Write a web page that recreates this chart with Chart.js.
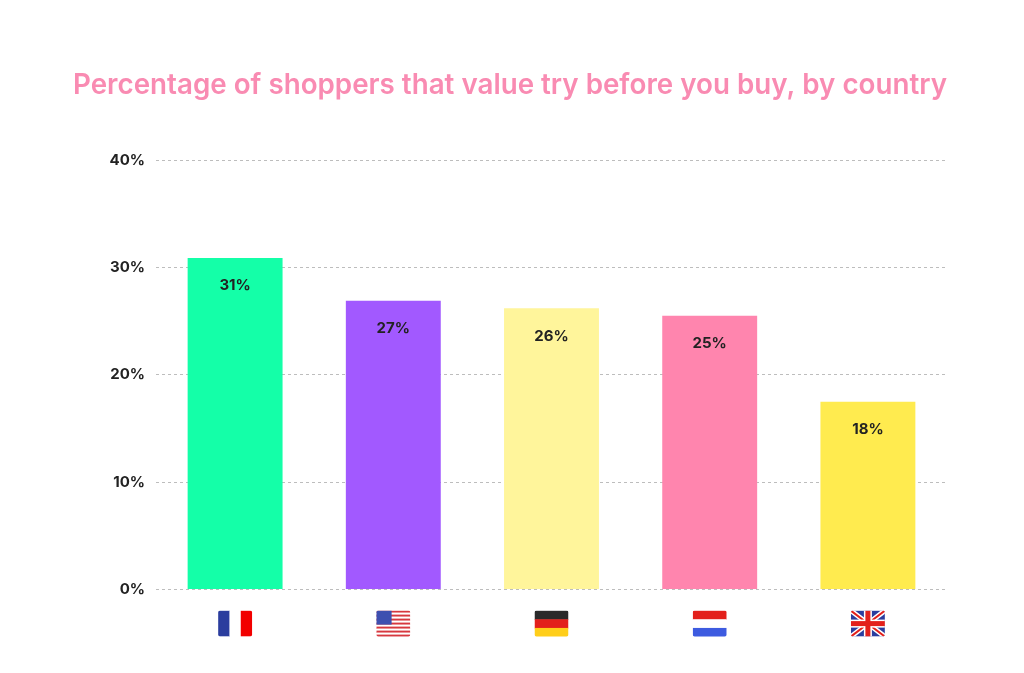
<!DOCTYPE html>
<html>
<head>
<meta charset="utf-8">
<script src="https://cdn.jsdelivr.net/npm/chart.js@4"></script>
<style>
  html, body { margin: 0; background: #fff; }
  #wrap { width: 1024px; height: 673px; }
</style>
</head>
<body>
<div id="wrap"><canvas id="chart"></canvas></div>
<script>
// country flags stand in for category labels
const countries = ['France', 'United States', 'Germany', 'Netherlands', 'United Kingdom'];
const shares = [30.9, 26.9, 26.2, 25.5, 17.5];
const shareLabels = ['31%', '27%', '26%', '25%', '18%'];
const barColors = ['#14FFA8', '#A259FF', '#FFF59B', '#FF85AE', '#FFEB4F'];
const yTicks = [0, 10, 20, 30, 40];

function drawFlag(ctx, name, x, y, w, h) {
    ctx.save();
    ctx.beginPath();
    ctx.roundRect(x, y, w, h, 2);
    ctx.clip();
    if (name === 'France') {
        ['#2B3D9E', '#ffffff', '#F20000'].forEach((c, i) => { ctx.fillStyle = c; ctx.fillRect(x + i * w / 3, y, w / 3 + 0.5, h); });
    } else if (name === 'Germany') {
        ['#2a2a2a', '#E3201B', '#FFCE1A'].forEach((c, i) => { ctx.fillStyle = c; ctx.fillRect(x, y + i * h / 3, w, h / 3 + 0.5); });
    } else if (name === 'Netherlands') {
        ['#E3201B', '#ffffff', '#3D5BE0'].forEach((c, i) => { ctx.fillStyle = c; ctx.fillRect(x, y + i * h / 3, w, h / 3 + 0.5); });
    } else if (name === 'United States') {
        for (let i = 0; i < 13; i++) {
            ctx.fillStyle = i % 2 ? '#ffffff' : '#D7383F';
            ctx.fillRect(x, y + i * h / 13, w, h / 13 + 0.3);
        }
        ctx.fillStyle = '#3D4FB0';
        ctx.fillRect(x, y, w * 0.45, h * 7 / 13);
    } else {
        ctx.fillStyle = '#2B3D9E';
        ctx.fillRect(x, y, w, h);
        ctx.strokeStyle = '#fff'; ctx.lineWidth = 5;
        ctx.beginPath(); ctx.moveTo(x, y); ctx.lineTo(x + w, y + h); ctx.moveTo(x + w, y); ctx.lineTo(x, y + h); ctx.stroke();
        ctx.strokeStyle = '#E3201B'; ctx.lineWidth = 2;
        ctx.stroke();
        ctx.fillStyle = '#fff';
        ctx.fillRect(x + w / 2 - 4, y, 8, h); ctx.fillRect(x, y + h / 2 - 4, w, 8);
        ctx.fillStyle = '#E3201B';
        ctx.fillRect(x + w / 2 - 2.5, y, 5, h); ctx.fillRect(x, y + h / 2 - 2.5, w, 5);
    }
    ctx.restore();
}

const extras = {
    id: 'extras',
    afterDatasetsDraw(chart) {
        const ctx = chart.ctx;
        const meta = chart.getDatasetMeta(0);
        ctx.save();
        ctx.font = 'bold 15px Inter, "Open Sans", sans-serif';
        ctx.fillStyle = '#222';
        ctx.textAlign = 'center';
        ctx.textBaseline = 'middle';
        meta.data.forEach((bar, i) => {
            ctx.fillText(shareLabels[i], bar.x, bar.y + 28);
        });
        ctx.restore();
        const xs = chart.scales.x;
        const base = chart.scales.y.getPixelForValue(0);
        countries.forEach((c, i) => {
            drawFlag(ctx, c, xs.getPixelForTick(i) - 17, base + 21, 34, 26);
        });
    }
};

new Chart(document.getElementById('chart'), {
    type: 'bar',
    data: {
        labels: countries,
        datasets: [{
            data: shares,
            backgroundColor: barColors,
            categoryPercentage: 0.6,
            barPercentage: 1
        }]
    },
    options: {
        responsive: true,
        maintainAspectRatio: false,
        animation: false,
        layout: { padding: { left: 73, right: 77, top: 20, bottom: 31 } },
        plugins: {
            legend: { display: false },
            tooltip: { enabled: false },
            title: {
                display: true,
                text: 'Percentage of shoppers that value try before you buy, by country',
                color: '#F98BB2',
                font: { family: 'Inter, "Open Sans", sans-serif', size: 28.5, weight: '600' },
                padding: { top: 48, bottom: 58 }
            }
        },
        scales: {
            x: {
                grid: { display: false },
                border: { display: false },
                ticks: { callback: () => '', padding: 15 }
            },
            y: {
                min: 0, max: 40,
                afterBuildTicks(axis) { axis.ticks = yTicks.map(v => ({ value: v })); },
                afterFit(axis) { axis.width = 83; },
                grid: { color: '#bdbdbd', lineWidth: 1, drawTicks: false },
                border: { display: false, dash: [3, 3] },
                ticks: {
                    padding: 11,
                    color: '#222',
                    font: { family: 'Inter, "Open Sans", sans-serif', size: 15, weight: 'bold' },
                    callback: v => v + '%'
                }
            }
        }
    },
    plugins: [extras]
});
</script>
</body>
</html>
